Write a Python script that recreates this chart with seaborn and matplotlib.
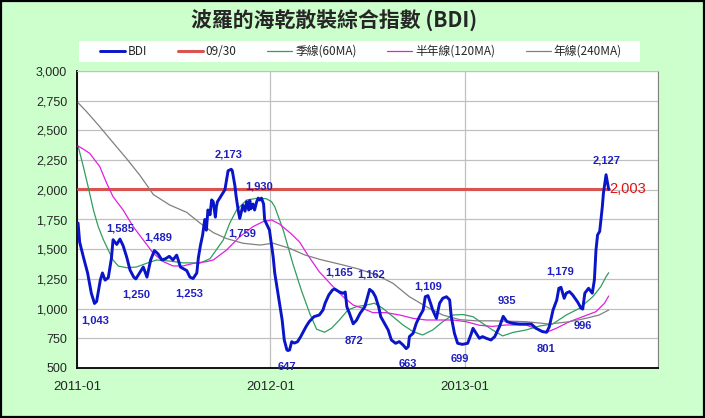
import numpy as np
import pandas as pd
import matplotlib
matplotlib.use("Agg")
import matplotlib.pyplot as plt
import matplotlib.dates as mdates
from matplotlib.patches import Rectangle
import seaborn as sns

# values
bdi_dates = [
    "2011-01-03", "2011-01-06", "2011-01-13", "2011-01-21", "2011-01-28", "2011-02-03",
    "2011-02-07", "2011-02-14", "2011-02-18", "2011-02-23", "2011-03-01", "2011-03-07",
    "2011-03-10", "2011-03-17", "2011-03-23", "2011-03-29", "2011-04-05", "2011-04-11",
    "2011-04-18", "2011-04-22", "2011-04-29", "2011-05-06", "2011-05-13", "2011-05-20",
    "2011-05-27", "2011-06-03", "2011-06-10", "2011-06-17", "2011-06-24", "2011-07-01",
    "2011-07-08", "2011-07-11", "2011-07-15", "2011-07-27", "2011-08-02", "2011-08-08",
    "2011-08-15", "2011-08-18", "2011-08-22", "2011-08-26", "2011-08-30", "2011-09-02",
    "2011-09-05", "2011-09-09", "2011-09-12", "2011-09-15", "2011-09-19", "2011-09-21",
    "2011-09-23", "2011-09-30", "2011-10-07", "2011-10-10", "2011-10-13", "2011-10-19",
    "2011-10-21", "2011-10-26", "2011-10-28", "2011-11-01", "2011-11-04", "2011-11-10",
    "2011-11-14", "2011-11-17", "2011-11-21", "2011-11-23", "2011-11-25", "2011-11-29",
    "2011-12-02", "2011-12-06", "2011-12-09", "2011-12-12", "2011-12-15", "2011-12-19",
    "2011-12-21", "2011-12-30", "2012-01-06", "2012-01-09", "2012-01-16", "2012-01-23",
    "2012-01-27", "2012-02-01", "2012-02-03", "2012-02-06", "2012-02-10", "2012-02-15",
    "2012-02-21", "2012-02-27", "2012-03-08", "2012-03-14", "2012-03-23", "2012-04-02",
    "2012-04-09", "2012-04-13", "2012-04-20", "2012-04-27", "2012-05-01", "2012-05-10",
    "2012-05-17", "2012-05-21", "2012-05-24", "2012-05-29", "2012-06-05", "2012-06-11",
    "2012-06-18", "2012-06-27", "2012-07-03", "2012-07-06", "2012-07-12", "2012-07-17",
    "2012-07-23", "2012-07-27", "2012-08-03", "2012-08-10", "2012-08-16", "2012-08-24",
    "2012-08-31", "2012-09-07", "2012-09-13", "2012-09-17", "2012-09-19", "2012-09-26",
    "2012-10-02", "2012-10-08", "2012-10-15", "2012-10-19", "2012-10-24", "2012-10-29",
    "2012-11-02", "2012-11-09", "2012-11-15", "2012-11-21", "2012-11-28", "2012-12-04",
    "2012-12-07", "2012-12-13", "2012-12-19", "2012-12-28", "2013-01-07", "2013-01-14",
    "2013-01-17", "2013-01-23", "2013-01-29", "2013-02-04", "2013-02-11", "2013-02-20",
    "2013-02-27", "2013-03-08", "2013-03-15", "2013-03-22", "2013-04-02", "2013-04-15",
    "2013-04-26", "2013-05-07", "2013-05-16", "2013-05-28", "2013-06-05", "2013-06-10",
    "2013-06-17", "2013-06-24", "2013-06-28", "2013-07-02", "2013-07-08", "2013-07-12",
    "2013-07-18", "2013-07-24", "2013-08-02", "2013-08-09", "2013-08-12", "2013-08-16",
    "2013-08-23", "2013-08-30", "2013-09-03", "2013-09-06", "2013-09-09", "2013-09-13",
    "2013-09-18", "2013-09-20", "2013-09-25", "2013-09-30",
]
bdi_values = [
    1720, 1560, 1435, 1300, 1130, 1043,
    1060, 1240, 1300, 1240, 1260, 1425,
    1580, 1540, 1585, 1530, 1430, 1325,
    1265, 1250, 1300, 1350, 1265, 1410,
    1489, 1460, 1410, 1420, 1440, 1410,
    1450, 1410, 1350, 1320, 1265, 1253,
    1300, 1430, 1535, 1620, 1750, 1660,
    1830, 1790, 1915, 1900, 1770, 1860,
    1900, 1950, 2000, 2080, 2160, 2173,
    2160, 2030, 1950, 1830, 1759, 1870,
    1820, 1900, 1830, 1910, 1840, 1880,
    1830, 1900, 1930, 1914, 1930, 1880,
    1746, 1662, 1437, 1300, 1100, 904,
    736, 652, 647, 652, 721, 710,
    721, 764, 848, 890, 932, 946,
    988, 1045, 1115, 1157, 1165, 1140,
    1129, 1140, 1016, 960, 872, 900,
    960, 1016, 1115, 1162, 1140, 1100,
    1016, 932, 876, 820, 736, 708,
    722, 694, 663, 680, 764, 792,
    876, 932, 988, 1100, 1109, 1045,
    988, 918, 1045, 1087, 1100, 1073,
    932, 792, 708, 699, 708, 792,
    834, 792, 750, 764, 750, 736,
    764, 848, 935, 890, 876, 870,
    870, 870, 834, 806, 801, 848,
    988, 1072, 1171, 1179, 1087, 1130,
    1143, 1115, 1058, 1003, 996, 1130,
    1171, 1130, 1241, 1493, 1620, 1650,
    1858, 1970, 2127, 2003,
]

ma60_dates = [
    "2011-01-03", "2011-01-13", "2011-01-22", "2011-02-01", "2011-02-10", "2011-02-20",
    "2011-03-01", "2011-03-10", "2011-03-20", "2011-04-05", "2011-04-23", "2011-05-12",
    "2011-05-31", "2011-06-25", "2011-07-20", "2011-08-15", "2011-08-21", "2011-09-09",
    "2011-10-04", "2011-10-16", "2011-10-29", "2011-11-17", "2011-12-06", "2011-12-24",
    "2012-01-03", "2012-01-09", "2012-01-25", "2012-02-12", "2012-02-28", "2012-03-15",
    "2012-03-28", "2012-04-12", "2012-04-25", "2012-05-10", "2012-05-26", "2012-06-11",
    "2012-06-30", "2012-07-15", "2012-07-31", "2012-08-19", "2012-09-07", "2012-09-26",
    "2012-10-14", "2012-11-02", "2012-11-21", "2012-12-10", "2012-12-29", "2013-01-17",
    "2013-02-04", "2013-02-23", "2013-03-14", "2013-04-02", "2013-04-27", "2013-05-22",
    "2013-06-16", "2013-07-12", "2013-08-06", "2013-08-31", "2013-09-15", "2013-09-25",
    "2013-09-30",
]
ma60_values = [
    2369, 2195, 2026, 1830, 1690, 1578,
    1493, 1409, 1358, 1344, 1350, 1381,
    1409, 1400, 1385, 1385, 1383, 1420,
    1578, 1718, 1830, 1914, 1928, 1925,
    1900, 1858, 1662, 1381, 1157, 960,
    826, 801, 834, 904, 988, 1016,
    1030, 1045, 1002, 932, 862, 806,
    778, 820, 890, 946, 950, 932,
    876, 820, 770, 799, 820, 853,
    870, 946, 1003, 1100, 1184, 1268,
    1302,
]

ma120_dates = [
    "2011-01-03", "2011-01-13", "2011-01-25", "2011-02-13", "2011-02-26", "2011-03-10",
    "2011-03-29", "2011-04-17", "2011-05-06", "2011-05-25", "2011-06-13", "2011-07-01",
    "2011-07-20", "2011-08-08", "2011-09-02", "2011-09-15", "2011-10-10", "2011-11-04",
    "2011-11-29", "2011-12-18", "2012-01-03", "2012-01-18", "2012-02-09", "2012-02-25",
    "2012-03-10", "2012-04-02", "2012-04-27", "2012-05-17", "2012-06-05", "2012-06-23",
    "2012-07-12", "2012-08-06", "2012-09-01", "2012-09-26", "2012-10-21", "2012-11-15",
    "2012-12-10", "2013-01-04", "2013-01-29", "2013-02-23", "2013-03-20", "2013-04-27",
    "2013-05-22", "2013-06-05", "2013-06-23", "2013-07-18", "2013-08-12", "2013-09-06",
    "2013-09-22", "2013-09-30",
]
ma120_values = [
    2369, 2342, 2307, 2195, 2055, 1942,
    1830, 1690, 1578, 1465, 1395, 1359,
    1359, 1380, 1395, 1409, 1493, 1605,
    1690, 1732, 1746, 1712, 1630, 1560,
    1460, 1310, 1190, 1100, 1030, 1002,
    966, 966, 946, 918, 904, 904,
    904, 890, 860, 850, 862, 862,
    820, 801, 834, 890, 932, 974,
    1045, 1106,
]

ma240_dates = [
    "2011-01-03", "2011-01-19", "2011-02-13", "2011-03-10", "2011-04-05", "2011-04-30",
    "2011-05-25", "2011-06-25", "2011-07-27", "2011-08-21", "2011-09-15", "2011-10-10",
    "2011-11-10", "2011-12-12", "2012-01-06", "2012-02-06", "2012-03-06", "2012-04-05",
    "2012-05-17", "2012-06-17", "2012-07-19", "2012-08-19", "2012-09-19", "2012-10-21",
    "2012-11-21", "2012-12-23", "2013-01-23", "2013-02-23", "2013-04-27", "2013-06-10",
    "2013-07-18", "2013-08-18", "2013-09-12", "2013-09-30",
]
ma240_values = [
    2733, 2658, 2531, 2397, 2260, 2120,
    1960, 1872, 1810, 1720, 1640, 1590,
    1550, 1535, 1550, 1508, 1451, 1412,
    1367, 1331, 1283, 1213, 1100, 1016,
    946, 907, 897, 897, 890, 870,
    890, 918, 946, 988,
]

last_date = "2013-09-30"
last_value = 2003

# (date, value, label, dx px, dy px)
peak_labels = [
    ("2011-02-03", 1043, "1,043", 1, -17),
    ("2011-03-23", 1585, "1,585", 0, 11),
    ("2011-04-22", 1250, "1,250", 0, -16),
    ("2011-05-27", 1489, "1,489", 4, 13),
    ("2011-08-08", 1253, "1,253", -4, -15),
    ("2011-10-19", 2173, "2,173", -3, 15),
    ("2011-11-04", 1759, "1,759", 2, -15),
    ("2011-12-15", 1930, "1,930", -2, 12),
    ("2012-02-03", 647, "647", -1, -16),
    ("2012-05-01", 1165, "1,165", 4, 16),
    ("2012-06-05", 872, "872", 1, -17),
    ("2012-07-06", 1162, "1,162", 2, 15),
    ("2012-09-17", 663, "663", -1, -15),
    ("2012-10-24", 1109, "1,109", 0, 9),
    ("2012-12-28", 699, "699", -3, -15),
    ("2013-03-15", 935, "935", 4, 15),
    ("2013-06-05", 801, "801", -1, -17),
    ("2013-07-02", 1179, "1,179", -1, 16),
    ("2013-08-12", 996, "996", 0, -17),
    ("2013-09-25", 2127, "2,127", 1, 14),
]

bdi = pd.DataFrame({"date": pd.to_datetime(bdi_dates), "value": bdi_values})
ma60 = pd.DataFrame({"date": pd.to_datetime(ma60_dates), "value": ma60_values})
ma120 = pd.DataFrame({"date": pd.to_datetime(ma120_dates), "value": ma120_values})
ma240 = pd.DataFrame({"date": pd.to_datetime(ma240_dates), "value": ma240_values})
ref = pd.DataFrame({"date": pd.to_datetime([bdi_dates[0], last_date]),
                    "value": [last_value, last_value]})

sns.set_style("white")
plt.rcParams["font.family"] = ["Liberation Sans", "Noto Sans CJK TC", "DejaVu Sans"]

fig = plt.figure(figsize=(7.06, 4.18), dpi=100, facecolor="#CCFFCC")
fig.patches.append(Rectangle((0.002, 0.003), 0.995, 0.994, transform=fig.transFigure,
                             fill=False, edgecolor="black", linewidth=1.6))
# white band behind the legend
fig.patches.append(Rectangle((79 / 706, 1 - 62 / 418), 561 / 706, 21 / 418,
                             transform=fig.transFigure, facecolor="white",
                             edgecolor="none", zorder=-1))
ax = fig.add_axes([77 / 706, 50 / 418, 581 / 706, 297 / 418])
ax.set_facecolor("white")

sns.lineplot(data=bdi, x="date", y="value", ax=ax, color="#0A14C8", linewidth=2.1,
             label="BDI", zorder=5)
sns.lineplot(data=ref, x="date", y="value", ax=ax, color="#D9534F", linewidth=2.2,
             label="09/30", zorder=3)
sns.lineplot(data=ma60, x="date", y="value", ax=ax, color="#2E9E5E", linewidth=0.9,
             label="季線(60MA)", zorder=4)
sns.lineplot(data=ma120, x="date", y="value", ax=ax, color="#E020E0", linewidth=0.9,
             label="半年線(120MA)", zorder=4)
sns.lineplot(data=ma240, x="date", y="value", ax=ax, color="#808080", linewidth=0.9,
             label="年線(240MA)", zorder=4)

for d, v, txt, dx, dy in peak_labels:
    ax.annotate(txt, (pd.Timestamp(d), v), xytext=(dx, dy), textcoords="offset pixels",
                ha="center", va="center", fontsize=8, fontweight="bold", color="#2020C0",
                zorder=6)
ax.annotate(f"{last_value:,}", (pd.Timestamp(last_date), last_value), xytext=(1, 0),
            textcoords="offset pixels", ha="left", va="center", fontsize=10.5,
            color="#E01010", zorder=6)

ax.set_xlim(pd.Timestamp("2011-01-01"), pd.Timestamp("2014-01-01"))
ax.set_ylim(500, 3000)
ax.set_yticks(np.arange(500, 3001, 250))
ax.yaxis.set_major_formatter(matplotlib.ticker.FuncFormatter(lambda v, p: f"{int(v):,}"))
ax.xaxis.set_major_locator(mdates.YearLocator())
labels_x = ax.get_xticks()
ax.set_xticks(labels_x)
ax.set_xticklabels([mdates.num2date(t).strftime("%Y-%m") if i < 3 else ""
                    for i, t in enumerate(labels_x)])
ax.tick_params(axis="both", labelsize=9, length=4, width=1, color="black",
               direction="out", pad=3)
ax.tick_params(axis="x", pad=5, labelsize=9.5)
ax.grid(True, color="#C0C0C0", linewidth=0.9)
ax.set_xlabel("")
ax.set_ylabel("")
for side in ["left", "bottom"]:
    ax.spines[side].set_color("black")
    ax.spines[side].set_linewidth(1.3)
ax.spines["right"].set_color("#808080")
ax.spines["top"].set_color("#C0C0C0")

leg = ax.legend(loc="center", bbox_to_anchor=(361 / 706, 1 - 51.5 / 418),
                bbox_transform=fig.transFigure, ncol=5, frameon=False,
                borderaxespad=0, handlelength=2.1, handletextpad=0.25,
                columnspacing=2.6, prop={"family": "Noto Sans CJK TC", "size": 8.5})
leg.set_zorder(10)

fig.text(334 / 706, 1 - 21 / 418, "波羅的海乾散裝綜合指數 (BDI)", ha="center", va="center",
         fontsize=15, fontweight="bold", family=["Noto Sans CJK TC", "DejaVu Sans"])

fig.savefig("out.png", dpi=100, facecolor=fig.get_facecolor())
